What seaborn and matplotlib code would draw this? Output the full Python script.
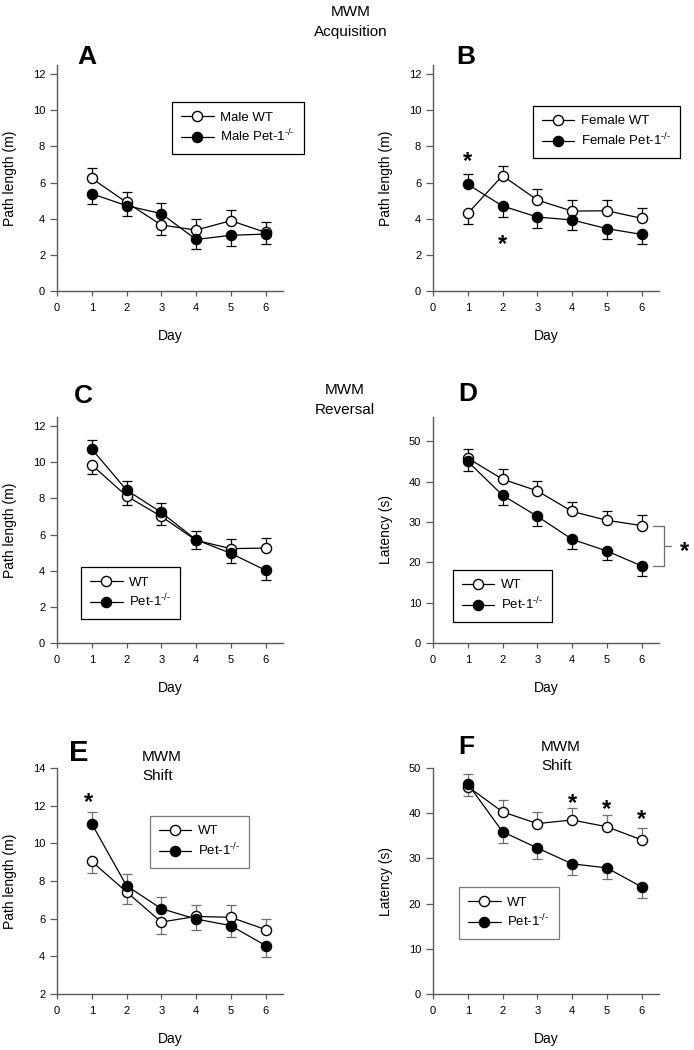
import numpy as np
import matplotlib
matplotlib.use('Agg')
import matplotlib.pyplot as plt
import seaborn as sns

days = [1, 2, 3, 4, 5, 6]

# A - acquisition, males (path length, m)
a_wt = [6.23, 4.90, 3.65, 3.37, 3.89, 3.24]
a_wt_err = [0.55, 0.56, 0.55, 0.59, 0.59, 0.59]
a_pet = [5.38, 4.72, 4.28, 2.85, 3.08, 3.15]
a_pet_err = [0.57, 0.57, 0.57, 0.55, 0.57, 0.57]

# B - acquisition, females (path length, m)
b_wt = [4.29, 6.38, 5.03, 4.42, 4.44, 4.02]
b_wt_err = [0.59, 0.55, 0.59, 0.59, 0.57, 0.59]
b_pet = [5.90, 4.70, 4.09, 3.93, 3.45, 3.13]
b_pet_err = [0.55, 0.59, 0.59, 0.56, 0.56, 0.55]

# C - reversal (path length, m)
c_wt = [9.85, 8.13, 7.00, 5.68, 5.22, 5.25]
c_wt_err = [0.50, 0.50, 0.48, 0.50, 0.55, 0.56]
c_pet = [10.73, 8.46, 7.22, 5.71, 4.96, 4.02]
c_pet_err = [0.50, 0.50, 0.50, 0.47, 0.54, 0.52]

# D - reversal (latency, s)
d_wt = [45.8, 40.6, 37.7, 32.6, 30.4, 29.1]
d_wt_err = [2.3, 2.6, 2.4, 2.3, 2.4, 2.5]
d_pet = [45.0, 36.6, 31.4, 25.7, 22.8, 19.1]
d_pet_err = [2.5, 2.3, 2.4, 2.4, 2.3, 2.4]

# E - shift (path length, m)
e_wt = [9.04, 7.42, 5.82, 6.12, 6.07, 5.42]
e_wt_err = [0.60, 0.62, 0.63, 0.59, 0.64, 0.58]
e_pet = [11.04, 7.75, 6.53, 5.98, 5.63, 4.57]
e_pet_err = [0.61, 0.64, 0.62, 0.60, 0.60, 0.61]

# F - shift (latency, s)
f_wt = [45.9, 40.3, 37.7, 38.5, 37.0, 34.1]
f_wt_err = [2.0, 2.6, 2.6, 2.6, 2.5, 2.6]
f_pet = [46.5, 35.9, 32.3, 28.8, 27.9, 23.7]
f_pet_err = [2.1, 2.5, 2.5, 2.5, 2.4, 2.5]

# significance stars (day, y)
b_stars = [(1, 7.5), (2, 2.9)]
e_stars = [(0.9, 12.5)]
f_stars = [(4, 43.6), (5, 42.3), (6, 40.0)]

PET = 'Pet-1$^{\\text{-/-}}$'

sns.set_theme(style='ticks')
plt.rcParams['font.family'] = ['Liberation Sans', 'DejaVu Sans']
plt.rcParams['mathtext.fontset'] = 'custom'
plt.rcParams['mathtext.rm'] = 'Liberation Sans'
plt.rcParams['mathtext.it'] = 'Liberation Sans:italic'
plt.rcParams['mathtext.bf'] = 'Liberation Sans:bold'
plt.rcParams['text.color'] = 'black'
plt.rcParams['axes.labelcolor'] = 'black'
plt.rcParams['xtick.labelcolor'] = 'black'
plt.rcParams['ytick.labelcolor'] = 'black'

fig = plt.figure(figsize=(6.94, 10.5), dpi=100)
W, H = 694, 1050


def add_ax(left, bottom):
    # left / bottom of the axes box in pixels (bottom measured from top)
    return fig.add_axes([left / W, 1 - bottom / H, 226 / W, 226 / H])


def one_sided(ax, vals, errs, other, color):
    vals = np.array(vals)
    errs = np.array(errs)
    up = vals >= np.array(other)
    x = np.array(days)
    if up.any():
        ax.errorbar(x[up], vals[up], yerr=[np.zeros(up.sum()), errs[up]], fmt='none',
                    ecolor=color, elinewidth=0.9, capsize=3.6, capthick=0.9, zorder=1)
    if (~up).any():
        ax.errorbar(x[~up], vals[~up], yerr=[errs[~up], np.zeros((~up).sum())], fmt='none',
                    ecolor=color, elinewidth=0.9, capsize=3.6, capthick=0.9, zorder=1)


def panel(ax, wt, wt_err, pet, pet_err, labels, ylim, yticks, ylabel, leg_xy, grey=False):
    bar_color = '#6e6e6e' if grey else 'black'
    one_sided(ax, wt, wt_err, pet, bar_color)
    one_sided(ax, pet, pet_err, wt, bar_color)
    sns.lineplot(x=days, y=wt, ax=ax, color='black', marker='o', markersize=7.3,
                 markerfacecolor='white', markeredgecolor='black', markeredgewidth=1,
                 linewidth=0.9, label=labels[0], zorder=3, clip_on=False)
    sns.lineplot(x=days, y=pet, ax=ax, color='black', marker='o', markersize=7.3,
                 markerfacecolor='black', markeredgecolor='black', markeredgewidth=1,
                 linewidth=0.9, label=labels[1], zorder=4, clip_on=False)
    ax.set_xlim(0, 6.5)
    ax.set_ylim(*ylim)
    ax.set_xticks(range(0, 7))
    ax.set_yticks(yticks)
    ax.tick_params(axis='y', length=5, width=0.9, pad=3.5, labelsize=8, color='#5a5a5a')
    ax.tick_params(axis='x', length=3.5, width=0.9, pad=5, labelsize=8, color='#5a5a5a')
    for s in ['left', 'bottom']:
        ax.spines[s].set_color('#5a5a5a')
        ax.spines[s].set_linewidth(1)
    sns.despine(ax=ax)
    ax.set_xlabel('Day', fontsize=10)
    ax.set_ylabel(ylabel, fontsize=10)
    ax.xaxis.set_label_coords(0.5, -0.17)
    ax.yaxis.set_label_coords(-0.175, 0.5)
    leg = ax.legend(loc='upper left', bbox_to_anchor=leg_xy, borderaxespad=0,
                    frameon=True, fancybox=False, framealpha=1,
                    edgecolor='#7a7a7a' if grey else 'black', fontsize=9.5,
                    handlelength=2.45, handletextpad=0.5, labelspacing=0.35, borderpad=0.7)
    leg.get_frame().set_linewidth(0.9)


def stars(ax, pts, size=17):
    for x, y in pts:
        ax.annotate('*', (x, y), xytext=(0, -4.5), textcoords='offset points',
                    ha='center', va='center', fontsize=size, fontweight='bold',
                    annotation_clip=False)


path_ticks = range(0, 13, 2)

ax_a = add_ax(57, 291)
panel(ax_a, a_wt, a_wt_err, a_pet, a_pet_err, ['Male WT', 'Male ' + PET],
      (0, 12.5), path_ticks, 'Path length (m)', (0.509, 0.836))

ax_b = add_ax(433, 291)
panel(ax_b, b_wt, b_wt_err, b_pet, b_pet_err, ['Female WT', 'Female ' + PET],
      (0, 12.5), path_ticks, 'Path length (m)', (0.442, 0.819))
stars(ax_b, b_stars)

ax_c = add_ax(57, 643)
panel(ax_c, c_wt, c_wt_err, c_pet, c_pet_err, ['WT', PET],
      (0, 12.5), path_ticks, 'Path length (m)', (0.106, 0.336))

ax_d = add_ax(433, 643)
panel(ax_d, d_wt, d_wt_err, d_pet, d_pet_err, ['WT', PET],
      (0, 56), range(0, 51, 10), 'Latency (s)', (0.088, 0.323))
# bracket for the overall genotype effect
y_hi, y_lo = d_wt[-1], d_pet[-1]
ax_d.plot([6.32, 6.63, 6.63, 6.32], [y_hi, y_hi, y_lo, y_lo], color='#6e6e6e', lw=0.9, clip_on=False)
ax_d.plot([6.63, 6.85], [(y_hi + y_lo) / 2] * 2, color='#6e6e6e', lw=0.9, clip_on=False)
stars(ax_d, [(7.23, (y_hi + y_lo) / 2)])

ax_e = add_ax(57, 994)
panel(ax_e, e_wt, e_wt_err, e_pet, e_pet_err, ['WT', PET],
      (2, 14), range(2, 15, 2), 'Path length (m)', (0.411, 0.788), grey=True)
stars(ax_e, e_stars)

ax_f = add_ax(433, 994)
panel(ax_f, f_wt, f_wt_err, f_pet, f_pet_err, ['WT', PET],
      (0, 50), range(0, 51, 10), 'Latency (s)', (0.115, 0.473), grey=True)
stars(ax_f, f_stars)

# panel letters
for letter, x, y, size in [('A', 77, 57, 19), ('B', 456, 57, 19), ('C', 74, 396, 19),
                           ('D', 458, 394, 19), ('E', 69, 753, 21), ('F', 458, 747, 19)]:
    fig.text(x / W, 1 - y / H, letter, fontsize=size, fontweight='bold', ha='left', va='center')

# section titles
fig.text(351 / W, 1 - 12 / H, 'MWM', fontsize=11, ha='center', va='center')
fig.text(351 / W, 1 - 32 / H, 'Acquisition', fontsize=11, ha='center', va='center')
fig.text(345 / W, 1 - 390 / H, 'MWM', fontsize=11, ha='center', va='center')
fig.text(345 / W, 1 - 410 / H, 'Reversal', fontsize=11, ha='center', va='center')
fig.text(142 / W, 1 - 757 / H, 'MWM', fontsize=11, ha='left', va='center')
fig.text(142 / W, 1 - 776 / H, 'Shift', fontsize=11, ha='left', va='center')
fig.text(541 / W, 1 - 747 / H, 'MWM', fontsize=11, ha='left', va='center')
fig.text(541 / W, 1 - 766 / H, 'Shift', fontsize=11, ha='left', va='center')

fig.savefig('out.png', dpi=100)
